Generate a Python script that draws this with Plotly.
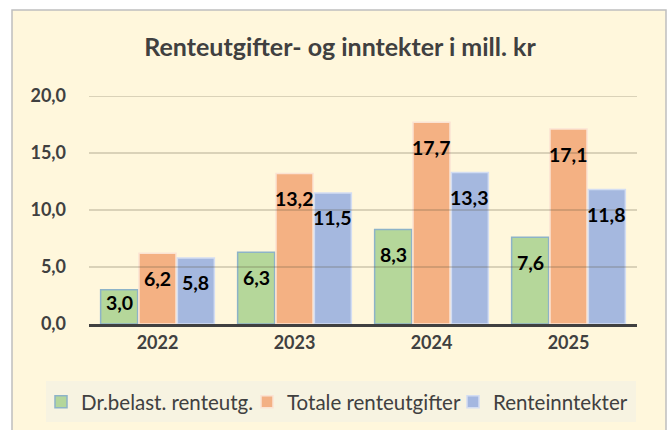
import plotly.graph_objects as go

years = ["2022", "2023", "2024", "2025"]
series_names = ["Dr.belast. renteutg.", "Totale renteutgifter", "Renteinntekter"]
dr_belast = [3.0, 6.3, 8.3, 7.6]
totale = [6.2, 13.2, 17.7, 17.1]
renteinntekter = [5.8, 11.5, 13.3, 11.8]
y_ticks = [0, 5, 10, 15, 20]
title_text = "Renteutgifter- og inntekter i mill. kr"

series = [dr_belast, totale, renteinntekter]
fills = ["rgba(163,206,138,0.8)", "rgba(241,159,109,0.8)", "rgba(143,168,224,0.8)"]
borders = ["#8DB3C8", "#FBE3D3", "#D3DDF2"]
offsets = [-0.28, 0.0, 0.28]
bar_w = 0.27

W, H = 670, 430
L, R, T, B = 89, 33, 96, 106
pw, ph = W - L - R, H - T - B

def px_x(px):
    return (px - L) / pw

def px_y(py):
    return (H - B - py) / ph

fig = go.Figure()
for name, vals, fc, bc, off in zip(series_names, series, fills, borders, offsets):
    xs = [i + off for i in range(len(years))]
    fig.add_trace(go.Bar(
        x=xs, y=vals, width=bar_w, name=name,
        marker=dict(color=fc, line=dict(color=bc, width=1.5)),
        hoverinfo="skip",
    ))
    for x, v in zip(xs, vals):
        fig.add_annotation(
            x=x, y=v, xref="x", yref="y",
            text="<b>" + f"{v:.1f}".replace(".", ",") + "</b>",
            showarrow=False, yanchor="middle",
            yshift=-25 if v > 4.5 else -13,
            font=dict(family="Lato", size=19.5, color="#000000"),
        )

# outer chart area
fig.add_shape(type="rect", xref="paper", yref="paper", layer="below",
              x0=px_x(12), x1=px_x(666), y0=px_y(440), y1=px_y(10),
              fillcolor="#FFF7DC", line=dict(color="#BFBFBF", width=1.5))
# legend background
fig.add_shape(type="rect", xref="paper", yref="paper", layer="below",
              x0=px_x(46), x1=px_x(636), y0=px_y(422), y1=px_y(381),
              fillcolor="#F7F3E1", line=dict(width=0))
# gridlines drawn above bars
for t in y_ticks[1:]:
    fig.add_shape(type="line", xref="paper", yref="y", layer="above",
                  x0=0, x1=1, y0=t, y1=t,
                  line=dict(color="rgba(90,80,60,0.3)", width=1.5))

fig.update_layout(
    width=W, height=H,
    margin=dict(l=L, r=R, t=T, b=B, autoexpand=False),
    paper_bgcolor="white",
    plot_bgcolor="rgba(0,0,0,0)",
    barmode="overlay",
    separators=", ",
    title=dict(text="<b>" + title_text + "</b>", x=340 / W, xref="container", xanchor="center",
               y=1 - 47 / H, yanchor="middle",
               font=dict(family="Lato", size=25, color="#404040")),
    font=dict(family="Lato", color="#404040"),
    showlegend=True,
    legend=dict(orientation="h", x=px_x(41), xanchor="left", y=px_y(402), yanchor="middle",
                bgcolor="rgba(0,0,0,0)", font=dict(family="Lato", size=20.5, color="#404040"),
                entrywidth=161, entrywidthmode="pixels", traceorder="normal"),
)
fig.update_xaxes(
    range=[-0.5, len(years) - 0.5],
    tickmode="array", tickvals=list(range(len(years))), ticktext=["<b>" + y + "</b>" for y in years],
    tickfont=dict(family="Lato", size=18, color="#404040"),
    showgrid=False, showline=True, linecolor="#404040", linewidth=3,
    ticks="", zeroline=False,
)
fig.update_yaxes(
    range=[0, 20], tickmode="array", tickvals=y_ticks,
    ticktext=["<b>" + f"{t:.1f}".replace(".", ",") + "</b>" for t in y_ticks],
    tickfont=dict(family="Lato", size=18, color="#404040"),
    showgrid=False, zeroline=False, showline=False, ticks="",
    ticklabelstandoff=22,
)

fig.write_html("out.html", config={"displayModeBar": False},
               post_script="document.body.style.margin='0';")
